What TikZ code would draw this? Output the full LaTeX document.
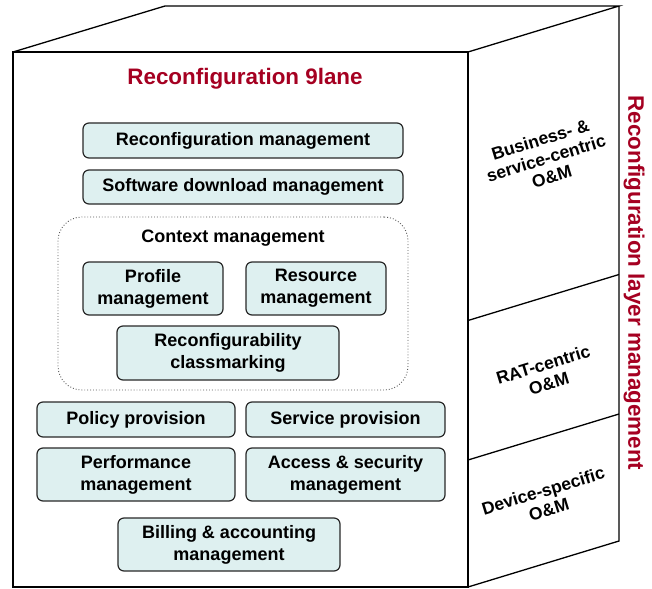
\documentclass[tikz,border=0pt]{standalone}
\usepackage{fontspec}
\setmainfont{Liberation Sans}
\definecolor{titlered}{RGB}{165,0,33}
\definecolor{boxfill}{RGB}{222,240,240}
\definecolor{boxline}{RGB}{40,40,40}
\tikzset{
  cubeline/.style={line width=1.3pt, black, line join=miter},
  mbox/.style={draw=boxline, line width=1.2pt, fill=boxfill, rounded corners=6pt,
    inner sep=0pt, align=center, font=\fontsize{18}{22}\selectfont\bfseries},
  ctxbox/.style={draw=gray!70!black, dotted, line width=0.9pt, rounded corners=24pt, inner sep=0pt},
  bigtitle/.style={font=\fontsize{22.4}{26}\selectfont\bfseries, text=titlered, inner sep=0pt},
  facelabel/.style={font=\fontsize{17.5}{19.5}\selectfont\bfseries, align=center, rotate=17, inner sep=0pt},
  ctxtitle/.style={font=\fontsize{18}{22}\selectfont\bfseries, inner sep=0pt}
}
\begin{document}
\begin{tikzpicture}[x=1pt,y=-1pt]
\useasboundingbox (0,0) rectangle (652,588);
% cube
\coordinate (ftl) at (13,52);
\coordinate (ftr) at (468,52);
\coordinate (fbr) at (468,587);
\coordinate (fbl) at (13,587);
\coordinate (btl) at (165,6);
\coordinate (btr) at (619,6);
\coordinate (bbr) at (619,541);
\coordinate (d1l) at (468,320.5);
\coordinate (d1r) at (619,274.5);
\coordinate (d2l) at (468,460);
\coordinate (d2r) at (619,414);
\draw[cubeline] (ftl) -- (ftr) -- (fbr) -- (fbl) -- cycle;
\draw[cubeline] (ftl) -- (btl) -- (btr) -- (ftr);
\draw[cubeline] (btr) -- (bbr) -- (fbr);
\draw[cubeline] (d1l) -- (d1r);
\draw[cubeline] (d2l) -- (d2r);
% titles
\node[bigtitle] (title) at (245,79) {Reconfiguration 9lane};
\node[bigtitle, rotate=-90] (vtitle) at (634,283) {Reconfiguration layer management};
% face labels
\node[facelabel] (bus) at (546,158) {Business- \&\\service-centric\\O\&M};
\node[facelabel] (rat) at (546,374) {RAT-centric\\O\&M};
\node[facelabel] (dev) at (546,500) {Device-specific\\O\&M};
% boxes
\node[mbox, minimum width=320pt, minimum height=35pt] (recm) at (243,140.5) {Reconfiguration management};
\node[mbox, minimum width=320pt, minimum height=34pt] (swdl) at (243,187) {Software download management};
\node[ctxbox, minimum width=350pt, minimum height=173pt] (ctx) at (233,303.5) {};
\node[ctxtitle] (ctxt) at (233,238) {Context management};
\node[mbox, minimum width=140pt, minimum height=53pt] (prof) at (153,288.5) {Profile\\management};
\node[mbox, minimum width=140pt, minimum height=53pt] (res) at (316,288.5) {Resource\\management};
\node[mbox, minimum width=222pt, minimum height=54pt] (cls) at (228,353) {Reconfigurability\\classmarking};
\node[mbox, minimum width=198pt, minimum height=35pt] (pol) at (136,419.5) {Policy provision};
\node[mbox, minimum width=199pt, minimum height=35pt] (srv) at (345.5,419.5) {Service provision};
\node[mbox, minimum width=198pt, minimum height=53pt] (perf) at (136,474.5) {Performance\\management};
\node[mbox, minimum width=199pt, minimum height=53pt] (acc) at (345.5,474.5) {Access \& security\\management};
\node[mbox, minimum width=222pt, minimum height=53pt] (bill) at (229,544.5) {Billing \& accounting\\management};
\end{tikzpicture}
\end{document}
